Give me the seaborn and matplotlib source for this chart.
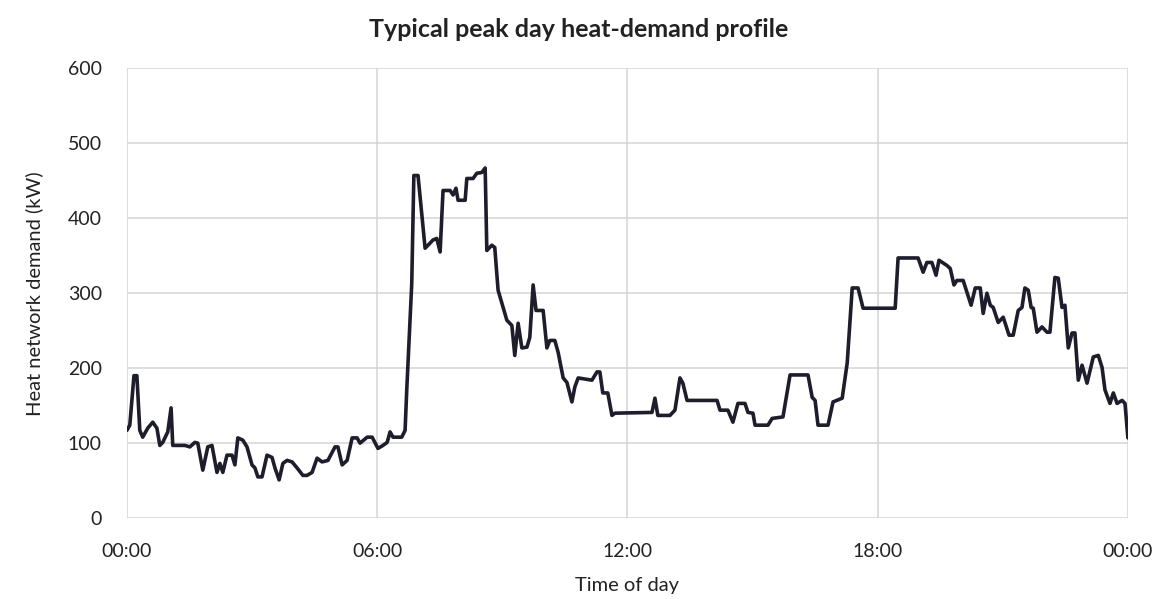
"""
Typical peak day heat-demand profile
"""
import pandas as pd
import matplotlib
matplotlib.use('Agg')
import matplotlib.pyplot as plt
import seaborn as sns

# time of day in hours
hours = [
    0.00, 0.07, 0.17, 0.24, 0.31, 0.38, 0.50, 0.62, 0.72, 0.79, 0.86, 0.98, 1.06, 1.10,
    1.39, 1.51, 1.63, 1.70, 1.82, 1.94, 2.04, 2.16, 2.23, 2.30, 2.40, 2.52, 2.59, 2.66,
    2.78, 2.88, 3.00, 3.07, 3.14, 3.24, 3.36, 3.48, 3.55, 3.65, 3.74, 3.84, 3.96, 4.08,
    4.22, 4.32, 4.44, 4.56, 4.68, 4.82, 4.99, 5.06, 5.16, 5.28, 5.40, 5.52, 5.59, 5.76,
    5.88, 6.02, 6.14, 6.24, 6.31, 6.38, 6.59, 6.67, 6.71, 6.83, 6.88, 6.98, 7.15, 7.22,
    7.34, 7.43, 7.51, 7.58, 7.75, 7.82, 7.89, 7.94, 8.11, 8.15, 8.30, 8.39, 8.51, 8.59,
    8.63, 8.75, 8.82, 8.90, 9.02, 9.11, 9.23, 9.30, 9.38, 9.47, 9.59, 9.66, 9.74, 9.81,
    9.98, 10.07, 10.14, 10.26, 10.34, 10.46, 10.55, 10.67, 10.74, 10.82, 11.15, 11.27,
    11.34, 11.41, 11.53, 11.63, 11.70, 12.59, 12.66, 12.73, 13.02, 13.14, 13.26, 13.33,
    13.43, 14.15, 14.22, 14.41, 14.53, 14.65, 14.82, 14.89, 15.01, 15.06, 15.37, 15.47,
    15.73, 15.90, 16.33, 16.43, 16.50, 16.57, 16.81, 16.93, 17.15, 17.27, 17.39, 17.53,
    17.65, 18.42, 18.49, 18.97, 19.09, 19.18, 19.30, 19.40, 19.47, 19.66, 19.74, 19.83,
    19.90, 20.05, 20.24, 20.34, 20.46, 20.53, 20.62, 20.70, 20.77, 20.89, 21.01, 21.15,
    21.25, 21.37, 21.46, 21.53, 21.61, 21.68, 21.73, 21.82, 21.94, 22.06, 22.13, 22.25,
    22.33, 22.42, 22.49, 22.57, 22.66, 22.73, 22.81, 22.90, 23.02, 23.17, 23.29, 23.38,
    23.45, 23.57, 23.65, 23.74, 23.86, 23.93, 24.00,
]

# heat network demand in kW
demand_kw = [
    117, 124, 190, 190, 117, 108, 120, 128, 120, 97, 101, 115, 147, 97,
    97, 95, 101, 100, 64, 95, 97, 61, 73, 61, 84, 84, 71, 107,
    104, 95, 71, 67, 55, 55, 84, 81, 67, 51, 73, 77, 75, 67,
    57, 57, 61, 80, 75, 77, 95, 95, 71, 77, 107, 107, 100, 108,
    108, 93, 97, 101, 115, 108, 108, 117, 171, 313, 457, 457, 360, 364,
    371, 373, 355, 437, 437, 431, 440, 424, 424, 453, 453, 460, 461, 467,
    357, 364, 361, 304, 281, 264, 257, 217, 260, 227, 228, 241, 311, 277,
    277, 227, 237, 237, 221, 187, 181, 155, 175, 187, 184, 195,
    195, 167, 167, 137, 140, 141, 160, 137, 137, 144, 187, 180,
    157, 157, 144, 144, 128, 153, 153, 141, 140, 124, 124, 133,
    135, 191, 191, 161, 157, 124, 124, 155, 160, 207, 307, 307,
    280, 280, 347, 347, 328, 341, 341, 324, 344, 337, 333, 311,
    317, 317, 284, 307, 307, 273, 300, 284, 281, 261, 268, 244,
    244, 277, 281, 307, 304, 281, 280, 248, 255, 248, 248, 321,
    320, 281, 284, 227, 247, 247, 184, 204, 180, 215, 217, 201,
    171, 153, 167, 153, 157, 153, 107,
]

x_ticks = [0, 6, 12, 18, 24]
x_tick_labels = ['00:00', '06:00', '12:00', '18:00', '00:00']
y_ticks = [0, 100, 200, 300, 400, 500, 600]

sns.set_theme(style='whitegrid')
plt.rcParams['font.family'] = ['Lato', 'DejaVu Sans']

df = pd.DataFrame({'hour': hours, 'demand': demand_kw})

fig = plt.figure(figsize=(11.64, 5.99), dpi=100)
ax = fig.add_axes([0.109, 0.135, 0.86, 0.751])

sns.lineplot(data=df, x='hour', y='demand', ax=ax, estimator=None,
             color='#1d1d2b', linewidth=2.6)

ax.set_xlim(0, 24)
ax.set_ylim(0, 600)
ax.set_xticks(x_ticks)
ax.set_xticklabels(x_tick_labels)
ax.set_yticks(y_ticks)
ax.tick_params(axis='both', length=0, labelsize=14, colors='#222222')
ax.tick_params(axis='x', pad=18)
ax.tick_params(axis='y', pad=18)
ax.grid(True, color='#d4d4d4', linewidth=1.1)
for spine in ax.spines.values():
    spine.set_visible(False)

ax.set_xlabel('Time of day', fontsize=14.5, color='#222222', labelpad=12)
ax.set_ylabel('Heat network demand (kW)', fontsize=14.5, color='#222222', labelpad=18)
fig.suptitle('Typical peak day heat-demand profile', fontsize=18, fontweight='bold',
             color='#222222', x=0.497, y=0.97)

plt.savefig('out.png', dpi=100)
